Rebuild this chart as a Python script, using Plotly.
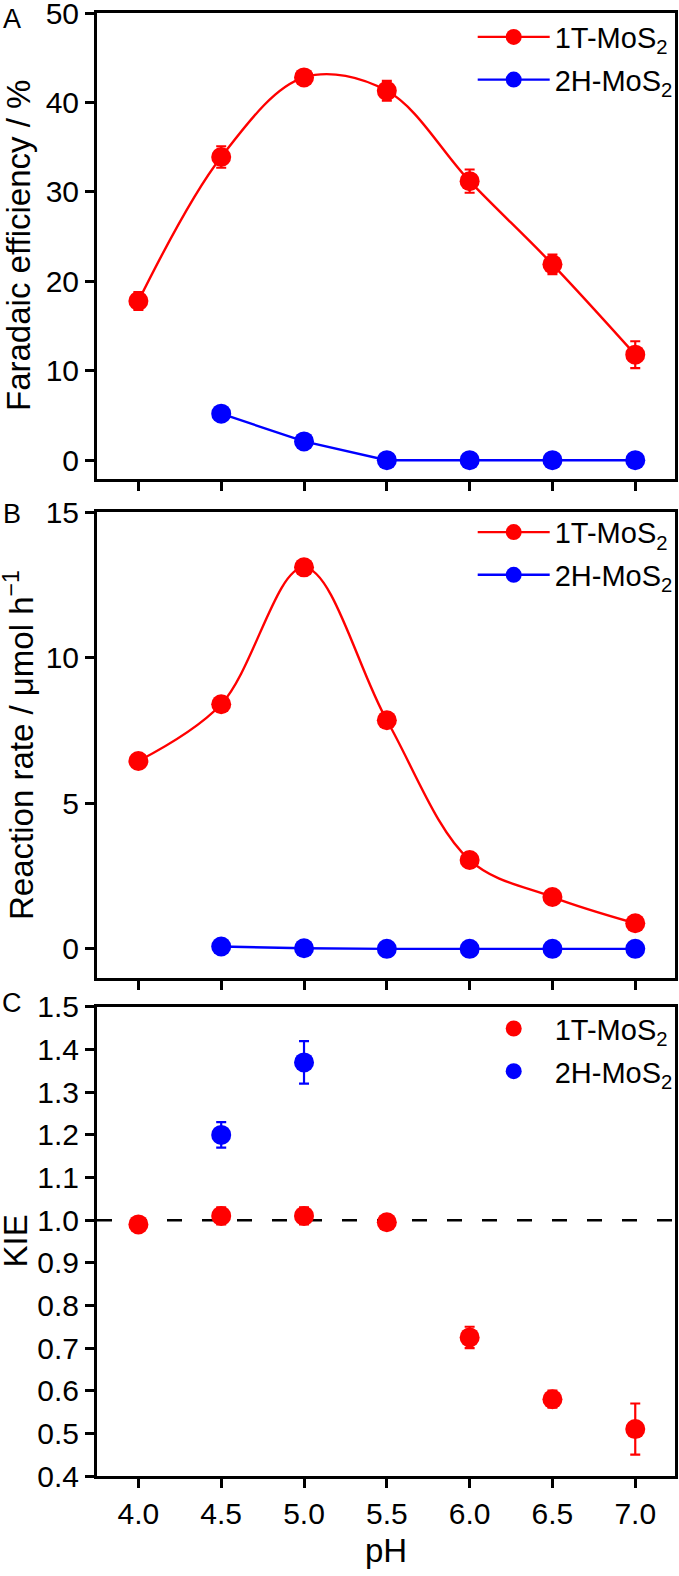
import plotly.graph_objects as go

# ---------------- data ----------------
ph = [4.0, 4.5, 5.0, 5.5, 6.0, 6.5, 7.0]
ph_2h = [4.5, 5.0, 5.5, 6.0, 6.5, 7.0]

fe_1t = [17.8, 33.9, 42.8, 41.3, 31.2, 21.9, 11.8]
fe_1t_err = [1.0, 1.2, 0.6, 1.1, 1.3, 1.1, 1.5]
fe_2h = [5.2, 2.1, 0.0, 0.0, 0.0, 0.0]

rate_1t = [6.45, 8.4, 13.1, 7.85, 3.05, 1.78, 0.88]
rate_2h = [0.08, 0.02, 0.0, 0.0, 0.0, 0.0]

kie_1t = [0.99, 1.01, 1.01, 0.995, 0.725, 0.58, 0.51]
kie_1t_err = [0.01, 0.02, 0.02, 0.01, 0.025, 0.02, 0.06]
ph_kie_2h = [4.5, 5.0]
kie_2h = [1.20, 1.37]
kie_2h_err = [0.03, 0.05]

x_ticks = [4.0, 4.5, 5.0, 5.5, 6.0, 6.5, 7.0]
names = ["1T-MoS<sub>2</sub>", "2H-MoS<sub>2</sub>"]

RED = "#ff0000"
BLUE = "#0000ff"
FONT = "Liberation Sans, Arial, Helvetica, sans-serif"

fig = go.Figure()

mk = dict(size=20)
eb = dict(type="data", thickness=2.2, width=5)

# Panel A
fig.add_trace(go.Scatter(x=ph, y=fe_1t, mode="lines+markers", name=names[0],
                         line=dict(color=RED, width=2.4, shape="spline"),
                         marker=dict(color=RED, **mk),
                         error_y=dict(array=fe_1t_err, color=RED, **eb),
                         xaxis="x", yaxis="y", legend="legend", legendgroup="a1"))
fig.add_trace(go.Scatter(x=ph_2h, y=fe_2h, mode="lines+markers", name=names[1],
                         line=dict(color=BLUE, width=2.4),
                         marker=dict(color=BLUE, **mk),
                         xaxis="x", yaxis="y", legend="legend", legendgroup="a2"))
# Panel B
fig.add_trace(go.Scatter(x=ph, y=rate_1t, mode="lines+markers", name=names[0],
                         line=dict(color=RED, width=2.4, shape="spline"),
                         marker=dict(color=RED, **mk),
                         xaxis="x2", yaxis="y2", legend="legend2", legendgroup="b1"))
fig.add_trace(go.Scatter(x=ph_2h, y=rate_2h, mode="lines+markers", name=names[1],
                         line=dict(color=BLUE, width=2.4),
                         marker=dict(color=BLUE, **mk),
                         xaxis="x2", yaxis="y2", legend="legend2", legendgroup="b2"))
# Panel C
fig.add_trace(go.Scatter(x=ph, y=kie_1t, mode="markers", name=names[0],
                         marker=dict(color=RED, **mk),
                         error_y=dict(array=kie_1t_err, color=RED, **eb),
                         xaxis="x3", yaxis="y3", legend="legend3", legendgroup="c1"))
fig.add_trace(go.Scatter(x=ph_kie_2h, y=kie_2h, mode="markers", name=names[1],
                         marker=dict(color=BLUE, **mk),
                         error_y=dict(array=kie_2h_err, color=BLUE, **eb),
                         xaxis="x3", yaxis="y3", legend="legend3", legendgroup="c2"))

fig.add_shape(type="line", xref="x3 domain", yref="y3", x0=0, x1=1, y0=1.0, y1=1.0,
              line=dict(color="black", width=2.5, dash="15px,20px"), layer="below")

tickfont = dict(family=FONT, size=30, color="black")
xrange = [3.75, 7.24]
common_x = dict(range=xrange, tickvals=x_ticks, tickformat=".1f", ticks="outside",
                ticklen=9, tickwidth=2.5, tickcolor="black", showline=True, linewidth=3,
                linecolor="black", mirror=True, showgrid=False, zeroline=False,
                tickfont=tickfont, ticklabeloverflow="allow")
common_y = dict(ticks="outside", ticklen=9, tickwidth=2.5, tickcolor="black", showline=True,
                linewidth=3, linecolor="black", mirror=True, showgrid=False,
                zeroline=False, tickfont=tickfont, ticklabeloverflow="allow")

dA = [0.6815, 1.0]
dB = [0.3404, 0.6589]
dC = [0.0, 0.3206]

legcommon = dict(font=dict(family=FONT, size=29, color="black"), bgcolor="rgba(0,0,0,0)",
                 xanchor="left", yanchor="top", x=0.650, itemwidth=72,
                 tracegroupgap=2, traceorder="grouped")

fig.update_layout(
    width=679, height=1576,
    margin=dict(l=97, r=4, t=13, b=100, autoexpand=False),
    paper_bgcolor="white", plot_bgcolor="white",
    font=dict(family=FONT, color="black"),
    xaxis=dict(domain=[0, 1], anchor="y", showticklabels=False, **common_x),
    xaxis2=dict(domain=[0, 1], anchor="y2", showticklabels=False, **common_x),
    xaxis3=dict(domain=[0, 1], anchor="y3", **common_x),
    yaxis=dict(domain=dA, anchor="x", range=[-2.1, 50], tickvals=[0, 10, 20, 30, 40, 50], **common_y),
    yaxis2=dict(domain=dB, anchor="x2", range=[-1, 15], tickvals=[0, 5, 10, 15], **common_y),
    yaxis3=dict(domain=dC, anchor="x3", range=[0.4, 1.5],
                tickvals=[0.4, 0.5, 0.6, 0.7, 0.8, 0.9, 1.0, 1.1, 1.2, 1.3, 1.4, 1.5],
                tickformat=".1f", **common_y),
    legend=dict(y=1.001, **legcommon),
    legend2=dict(y=0.6625, **legcommon),
    legend3=dict(y=0.3232, **legcommon),
    showlegend=True,
)

titlefont = dict(family=FONT, size=33, color="black")
ann = []
ann.append(dict(text="Faradaic efficiency / %", x=0, y=sum(dA) / 2, xshift=-78))
ann.append(dict(text="Reaction rate / \u03bcmol h<sup>\u22121</sup>", x=0, y=sum(dB) / 2, xshift=-78))
ann.append(dict(text="KIE", x=0, y=sum(dC) / 2, xshift=-82))
for a in ann:
    fig.add_annotation(xref="paper", yref="paper", showarrow=False, textangle=-90,
                       xanchor="center", yanchor="middle", font=titlefont, **a)

fig.add_annotation(text="pH", xref="paper", yref="paper", x=0.5, y=0, yshift=-74,
                   showarrow=False, xanchor="center", yanchor="middle", font=titlefont)

letterfont = dict(family=FONT, size=27, color="black")
for letter, yy, ys in [("A", 1.0, -6), ("B", dB[1], -2), ("C", dC[1], 4)]:
    fig.add_annotation(text=letter, xref="paper", yref="paper", x=0, y=yy, xshift=-85,
                       yshift=ys, showarrow=False, xanchor="center", yanchor="middle",
                       font=letterfont)

fig.write_html("out.html", config={"displayModeBar": False},
               post_script="document.body.style.margin='0';")
